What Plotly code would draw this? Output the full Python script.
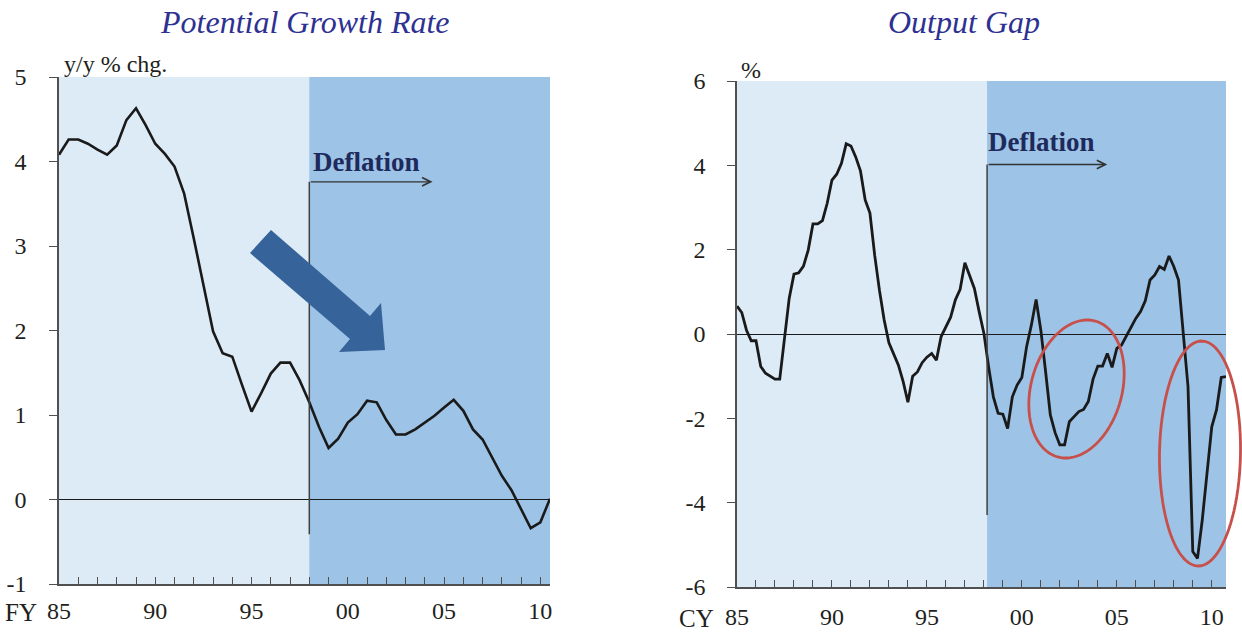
import numpy as np
import plotly.graph_objects as go

W, H = 1242, 636

# ---------------- data ----------------
# Potential growth rate, y/y % chg., half-yearly, FY1985 - FY2010.5
pg_x = [1985 + 0.5 * i for i in range(52)]
pg_values = [4.08, 4.26, 4.26, 4.21, 4.14, 4.08, 4.19, 4.49, 4.63, 4.43,
             4.21, 4.09, 3.94, 3.62, 3.09, 2.52, 1.99, 1.73, 1.69, 1.36,
             1.04, 1.26, 1.49, 1.62, 1.62, 1.41, 1.15, 0.86, 0.61, 0.72,
             0.91, 1.01, 1.17, 1.15, 0.94, 0.77, 0.77, 0.83, 0.91, 0.99,
             1.09, 1.18, 1.05, 0.83, 0.71, 0.50, 0.28, 0.11, -0.11, -0.34,
             -0.27, 0.01]

# Output gap, %, quarterly, CY1985Q1 - CY2010Q4
og_x = [1985 + 0.25 * i for i in range(104)]
og_values = [0.66, 0.51, 0.09, -0.16, -0.16, -0.77, -0.93, -1.00, -1.07, -1.07,
             -0.06, 0.85, 1.42, 1.45, 1.61, 1.99, 2.61, 2.61, 2.69, 3.10,
             3.65, 3.79, 4.05, 4.51, 4.46, 4.20, 3.87, 3.18, 2.87, 1.87,
             1.04, 0.33, -0.21, -0.46, -0.74, -1.13, -1.62, -1.00, -0.90, -0.68,
             -0.55, -0.46, -0.62, -0.06, 0.17, 0.40, 0.81, 1.06, 1.69, 1.40,
             1.08, 0.53, 0.02, -0.78, -1.49, -1.88, -1.90, -2.24, -1.49, -1.21,
             -1.03, -0.30, 0.21, 0.82, 0.09, -0.89, -1.92, -2.34, -2.63, -2.63,
             -2.08, -1.96, -1.84, -1.79, -1.60, -1.07, -0.76, -0.76, -0.46, -0.79,
             -0.34, -0.26, -0.06, 0.16, 0.37, 0.53, 0.79, 1.28, 1.40, 1.60,
             1.53, 1.85, 1.60, 1.28, 0.09, -1.25, -5.16, -5.32, -4.41, -3.30,
             -2.20, -1.80, -1.03, -1.01]

x_tickvals = [1985, 1990, 1995, 2000, 2005, 2010]
x_ticktext = ["85", "90", "95", "00", "05", "10"]
pg_ytickvals = [-1, 0, 1, 2, 3, 4, 5]
pg_yticktext = ["-1", "0", "1", "2", "3", "4", "5"]
og_ytickvals = [-6, -4, -2, 0, 2, 4, 6]
og_yticktext = ["-6", "-4", "-2", "0", "2", "4", "6"]

deflation_start_fy = 1998.0
deflation_start_cy = 1998.17

# ---------------- styling ----------------
SERIF = "Liberation Serif"
LIGHT = "#DDEBF7"
DARK = "#9DC3E6"
AXC = "#505050"
TXT = "#231f20"

def px(x):
    return x / W

def py(y):
    return 1 - y / H

fig = go.Figure()
fig.add_trace(go.Scatter(x=pg_x, y=pg_values, mode="lines",
                         line=dict(color="#1a1a1a", width=2.6),
                         xaxis="x", yaxis="y", hoverinfo="skip"))
fig.add_trace(go.Scatter(x=og_x, y=og_values, mode="lines",
                         line=dict(color="#1a1a1a", width=2.8),
                         xaxis="x2", yaxis="y2", hoverinfo="skip"))

def xaxis_cfg(domain, rng, anchor, standoff):
    return dict(domain=domain, range=rng, anchor=anchor,
                tickmode="array", tickvals=x_tickvals, ticktext=x_ticktext,
                ticks="inside", ticklen=7, tickwidth=1.3, tickcolor=AXC,
                minor=dict(ticks="inside", tickmode="linear", tick0=1985, dtick=1,
                           ticklen=7, tickwidth=1.3, tickcolor=AXC),
                showline=True, linecolor=AXC, linewidth=1.6,
                showgrid=False, zeroline=False,
                tickfont=dict(family=SERIF, size=24, color=TXT),
                ticklabelstandoff=standoff, automargin=False, fixedrange=True)

def yaxis_cfg(domain, rng, anchor, tv, tt, standoff):
    return dict(domain=domain, range=rng, anchor=anchor,
                tickmode="array", tickvals=tv, ticktext=tt,
                ticks="outside", ticklen=8, tickwidth=1.3, tickcolor=AXC,
                showline=True, linecolor=AXC, linewidth=1.6,
                showgrid=False, zeroline=True, zerolinecolor="#1a1a1a",
                zerolinewidth=1.2,
                tickfont=dict(family=SERIF, size=24, color=TXT),
                ticklabelstandoff=standoff, automargin=False, fixedrange=True)

fig.update_layout(
    width=W, height=H, autosize=False,
    margin=dict(l=0, r=0, t=0, b=0),
    paper_bgcolor="white", plot_bgcolor=LIGHT,
    showlegend=False,
    xaxis=xaxis_cfg([px(59), px(550)], [1985, 2010.5], "y", 4),
    yaxis=yaxis_cfg([py(584), py(77)], [-1, 5], "x", pg_ytickvals, pg_yticktext, 18),
    xaxis2=xaxis_cfg([px(737), px(1226)], [1985, 2010.75], "y2", 7),
    yaxis2=yaxis_cfg([py(587), py(81)], [-6, 6], "x2", og_ytickvals, og_yticktext, 17),
)

shapes = []
# dark shading for deflation period
shapes.append(dict(type="rect", xref="x", yref="y domain", x0=deflation_start_fy,
                   x1=2010.5, y0=0, y1=1, fillcolor=DARK, line=dict(width=0),
                   layer="below"))
shapes.append(dict(type="rect", xref="x2", yref="y2 domain", x0=deflation_start_cy,
                   x1=2010.75, y0=0, y1=1, fillcolor=DARK, line=dict(width=0),
                   layer="below"))
# deflation vertical markers
shapes.append(dict(type="line", xref="x", yref="y", x0=deflation_start_fy,
                   x1=deflation_start_fy, y0=-0.41, y1=3.76,
                   line=dict(color="#404040", width=1.5)))
shapes.append(dict(type="line", xref="x2", yref="y2", x0=deflation_start_cy,
                   x1=deflation_start_cy, y0=-4.29, y1=4.02,
                   line=dict(color="#404040", width=1.5)))

# big blue downward arrow (pixel outline -> paper)
arrow_px = [(271, 230), (370, 316), (381, 303), (385, 350), (339, 352),
            (350, 339), (250, 253)]
arrow_path = "M " + " L ".join(f"{px(a):.5f},{py(b):.5f}" for a, b in arrow_px) + " Z"
shapes.append(dict(type="path", xref="paper", yref="paper", path=arrow_path,
                   fillcolor="#36639A", line=dict(width=0), layer="above"))

def ellipse_path(cx, cy, a, b, theta_deg, n=90):
    th = np.radians(theta_deg)
    ux, uy = np.sin(th), -np.cos(th)
    vx, vy = np.cos(th), np.sin(th)
    pts = []
    for t in np.linspace(0, 2 * np.pi, n, endpoint=False):
        ex = cx + a * np.cos(t) * ux + b * np.sin(t) * vx
        ey = cy + a * np.cos(t) * uy + b * np.sin(t) * vy
        pts.append((px(ex), py(ey)))
    return "M " + " L ".join(f"{x:.5f},{y:.5f}" for x, y in pts) + " Z"

RED = "#C8504B"
shapes.append(dict(type="path", xref="paper", yref="paper",
                   path=ellipse_path(1076.5, 389, 70.5, 45.5, 15.4),
                   line=dict(color=RED, width=2.8), layer="above"))
shapes.append(dict(type="path", xref="paper", yref="paper",
                   path=ellipse_path(1200, 453.5, 112.5, 40.5, 1.0),
                   line=dict(color=RED, width=2.8), layer="above"))
fig.update_layout(shapes=shapes)

ann = []
# Deflation arrows
ann.append(dict(xref="x", yref="y", axref="x", ayref="y", x=2004.4, y=3.76,
                ax=deflation_start_fy, ay=3.76, text="", showarrow=True,
                arrowhead=5, arrowsize=1.3, arrowwidth=1.3, arrowcolor="#333333",
                standoff=0, startstandoff=0))
ann.append(dict(xref="x2", yref="y2", axref="x2", ayref="y2", x=2004.5, y=4.02,
                ax=deflation_start_cy, ay=4.02, text="", showarrow=True,
                arrowhead=5, arrowsize=1.3, arrowwidth=1.3, arrowcolor="#333333",
                standoff=0, startstandoff=0))

def txt(text, x, y, size, color=TXT, xanchor="center", yanchor="middle"):
    return dict(xref="paper", yref="paper", x=px(x), y=py(y), text=text,
                showarrow=False, xanchor=xanchor, yanchor=yanchor,
                font=dict(family=SERIF, size=size, color=color))

ann.append(txt("<i>Potential Growth Rate</i>", 305, 22, 32, "#2E3192"))
ann.append(txt("<i>Output Gap</i>", 964, 22, 32, "#2E3192"))
ann.append(txt("y/y % chg.", 62, 64, 24, xanchor="left"))
ann.append(txt("%", 739, 70, 24, xanchor="left"))
ann.append(txt("FY", 39, 612, 25, xanchor="right"))
ann.append(txt("CY", 716, 618, 25, xanchor="right"))
ann.append(txt("<b>Deflation</b>", 311, 162, 27, "#1F2A5C", xanchor="left"))
ann.append(txt("<b>Deflation</b>", 986, 142, 27, "#1F2A5C", xanchor="left"))
fig.update_layout(annotations=ann)

fig.write_html(
    "out.html",
    config={"displayModeBar": False},
    post_script="document.body.style.margin='0';document.body.style.overflow='hidden';",
)
